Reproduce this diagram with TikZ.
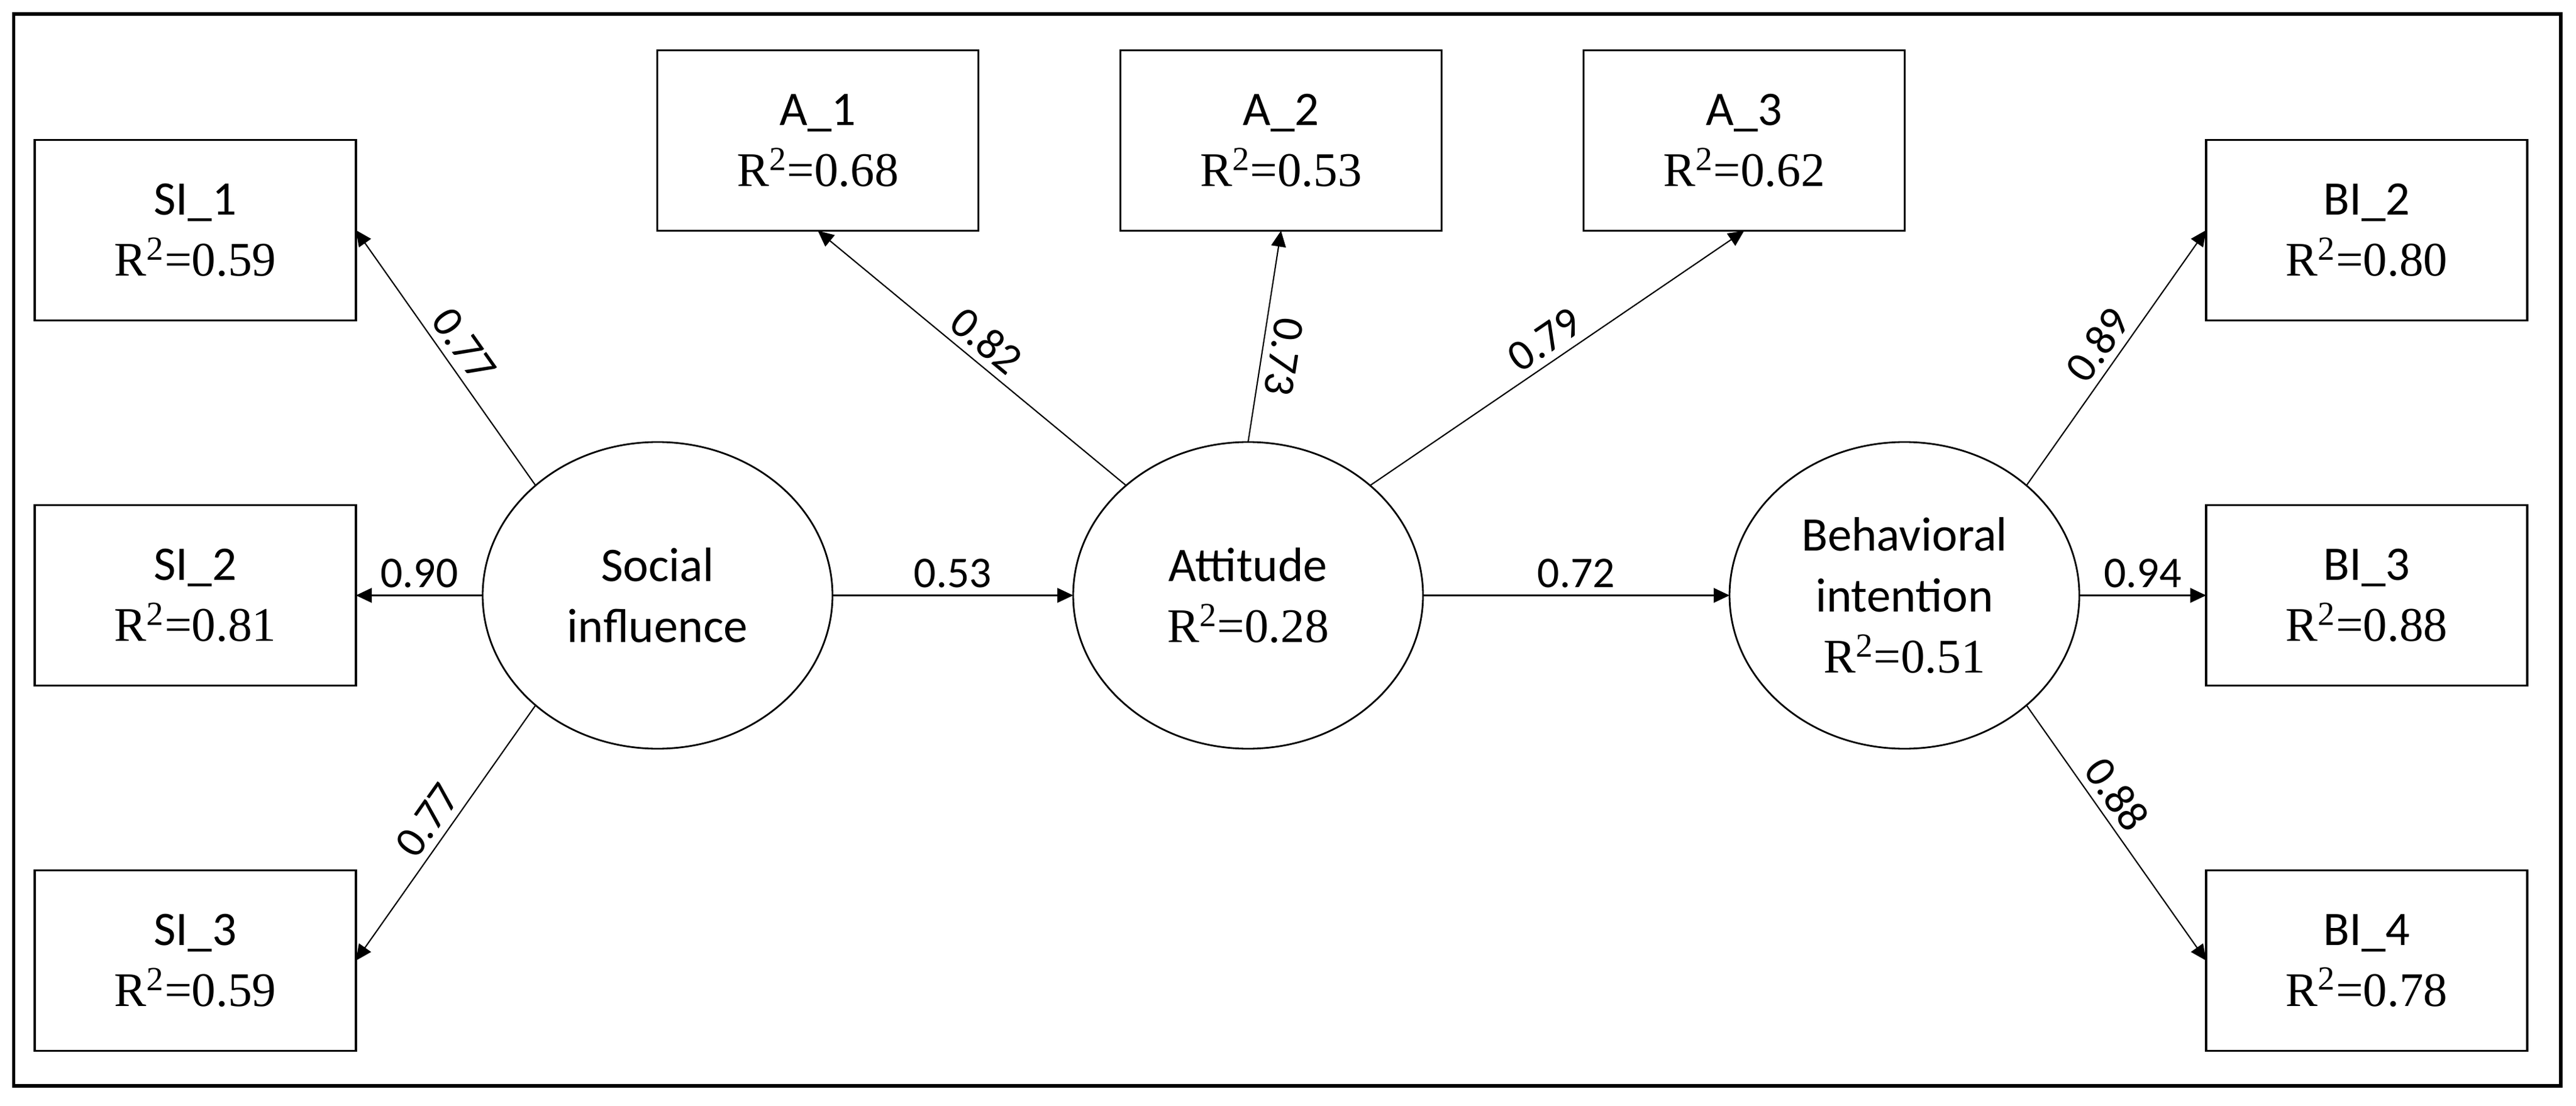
\documentclass[tikz,border=0pt]{standalone}
\usepackage{fontspec}
\setmainfont{Liberation Serif}
\setsansfont{Carlito}
\usetikzlibrary{arrows.meta,shapes.geometric,positioning}

\newcommand{\rsq}[1]{{\rmfamily R\textsuperscript{2}=#1}}

\begin{document}
\begin{tikzpicture}[->,>={Triangle[length=2.6mm,width=2.4mm]},semithick,font=\sffamily]
		\tikzstyle{latent}=[draw,ellipse,line width=0.8pt,minimum width=5.74cm,minimum height=5.03cm,inner sep=0pt,outer sep=0pt,align=center,font=\fontsize{22.5}{28.5}\selectfont\sffamily]
		\tikzstyle{item}=[draw,rectangle,line width=1.1pt,minimum width=5.27cm,minimum height=2.96cm,inner sep=0pt,outer sep=0pt,align=center,font=\fontsize{22.5}{28.5}\selectfont\sffamily]
		\tikzstyle{load}=[font=\fontsize{20.5}{24}\selectfont\sffamily]

		\useasboundingbox (0,0) rectangle (42.27,-18.14);
		\draw[-,line width=1.5pt] (0.225,-0.23) rectangle (42.02,-17.81);

		\node[latent] (SI) at (10.79,-9.765) {Social\\influence};
		\node[latent] (Att) [right=3.95cm of SI] {Attitude\\\rsq{0.28}};
		\node[latent] (BI) [right=5.03cm of Att] {Behavioral\\intention\\\rsq{0.51}};

		\node[item] (SI2) [left=2.08cm of SI] {SI\_2\\\rsq{0.81}};
		\node[item] (SI1) [above=3.03cm of SI2] {SI\_1\\\rsq{0.59}};
		\node[item] (SI3) [below=3.03cm of SI2] {SI\_3\\\rsq{0.59}};

		\node[item] (A2) at (21.02,-2.305) {A\_2\\\rsq{0.53}};
		\node[item] (A1) [left=2.33cm of A2] {A\_1\\\rsq{0.68}};
		\node[item] (A3) [right=2.33cm of A2] {A\_3\\\rsq{0.62}};

		\node[item] (BI3) [right=2.08cm of BI] {BI\_3\\\rsq{0.88}};
		\node[item] (BI2) [above=3.03cm of BI3] {BI\_2\\\rsq{0.80}};
		\node[item] (BI4) [below=3.03cm of BI3] {BI\_4\\\rsq{0.78}};

		\path (SI.138) edge node[load,sloped,above] {0.77} (SI1.east);
		\path (SI.west) edge node[load,above] {0.90} (SI2.east);
		\path (SI.222) edge node[load,sloped,above] {0.77} (SI3.east);

		\path (Att.138) edge node[load,sloped,above] {0.82} (A1.south);
		\path (Att.north) edge node[load,pos=0.42,anchor=south,rotate=-98.8] {0.73} (A2.south);
		\path (Att.42) edge node[load,sloped,above] {0.79} (A3.south);

		\path (BI.42) edge node[load,sloped,above] {0.89} (BI2.west);
		\path (BI.east) edge node[load,above] {0.94} (BI3.west);
		\path (BI.318) edge node[load,sloped,above,pos=0.4] {0.88} (BI4.west);

		\path (SI.east) edge node[load,above] {0.53} (Att.west);
		\path (Att.east) edge node[load,above] {0.72} (BI.west);
	\end{tikzpicture}
\end{document}
